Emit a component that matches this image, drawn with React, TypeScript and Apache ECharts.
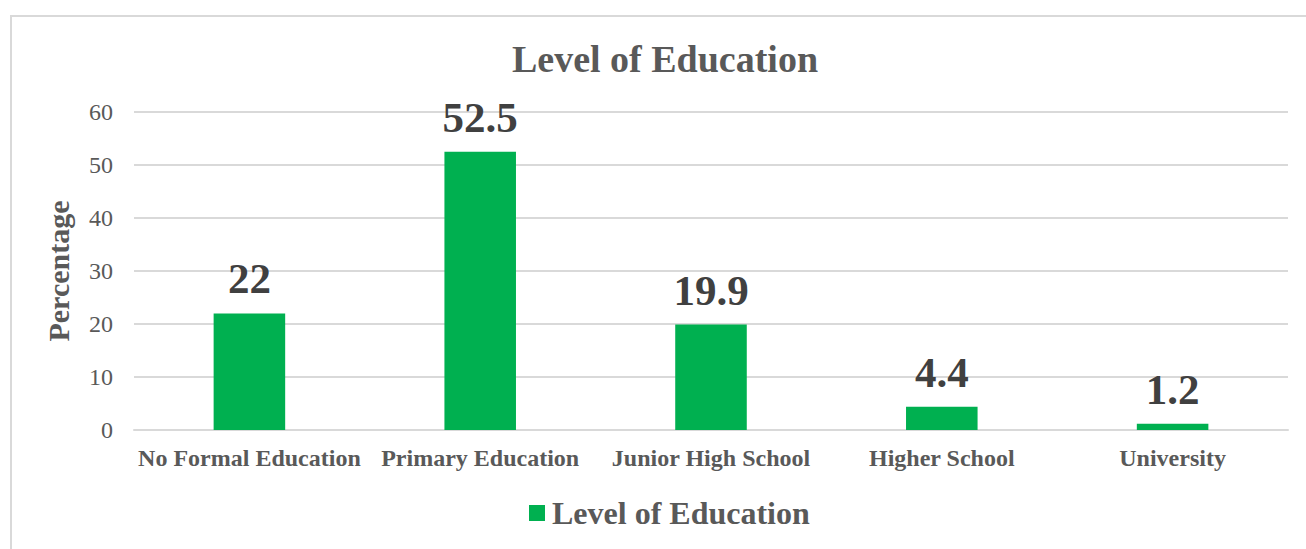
import React, { useEffect, useRef } from "react";
import * as echarts from "echarts";

const categories = [
  "No Formal Education",
  "Primary Education",
  "Junior High School",
  "Higher School",
  "University",
];
const values = [22, 52.5, 19.9, 4.4, 1.2];
const seriesName = "Level of Education";
const titleText = "Level of Education";
const yAxisName = "Percentage";

const SERIF = "'Liberation Serif', 'Times New Roman', serif";

export default function App() {
  const ref = useRef<HTMLDivElement>(null);
  useEffect(() => {
    document.body.style.margin = "0";
    const chart = echarts.init(ref.current!, null, { renderer: "svg" });
    chart.setOption({
      animation: false,
      backgroundColor: "#ffffff",
      title: {
        text: titleText,
        left: 660,
        top: 35,
        textAlign: "center",
        textStyle: {
          fontFamily: SERIF,
          fontWeight: "bold",
          fontSize: 38,
          color: "#595959",
        },
      },
      graphic: [
        {
          type: "rect",
          shape: { x: 11, y: 16, width: 1400, height: 700 },
          style: { fill: "none", stroke: "#d9d9d9", lineWidth: 2 },
          silent: true,
        },
      ],
      legend: {
        data: [seriesName],
        left: 524,
        top: 492,
        itemWidth: 16,
        itemHeight: 16,
        itemGap: 7,
        icon: "rect",
        textStyle: {
          fontFamily: SERIF,
          fontWeight: "bold",
          fontSize: 32,
          color: "#595959",
          padding: [0, 0, 0, 2],
        },
      },
      grid: { left: 134, right: 18, top: 112, bottom: 119, containLabel: false },
      xAxis: {
        type: "category",
        data: categories,
        axisLine: { lineStyle: { color: "#d9d9d9", width: 2 } },
        axisTick: { show: false },
        axisLabel: {
          margin: 16,
          interval: 0,
          fontFamily: SERIF,
          fontWeight: "bold",
          fontSize: 24,
          color: "#595959",
        },
      },
      yAxis: {
        type: "value",
        min: 0,
        max: 60,
        interval: 10,
        name: yAxisName,
        nameLocation: "middle",
        nameRotate: 90,
        nameGap: 61,
        nameTextStyle: {
          fontFamily: SERIF,
          fontWeight: "bold",
          fontSize: 30,
          color: "#595959",
        },
        axisLine: { show: false },
        axisTick: { show: false },
        splitLine: { lineStyle: { color: "#d9d9d9", width: 2 } },
        axisLabel: {
          margin: 21,
          fontFamily: SERIF,
          fontSize: 24,
          color: "#595959",
        },
      },
      series: [
        {
          name: seriesName,
          type: "bar",
          data: values,
          barWidth: "31%",
          itemStyle: { color: "#00b050" },
          label: {
            show: true,
            position: "top",
            distance: 13,
            fontFamily: SERIF,
            fontWeight: "bold",
            fontSize: 43,
            color: "#404040",
          },
        },
      ],
    });
    return () => chart.dispose();
  }, []);
  return <div ref={ref} style={{ width: 1306, height: 549 }} />;
}
